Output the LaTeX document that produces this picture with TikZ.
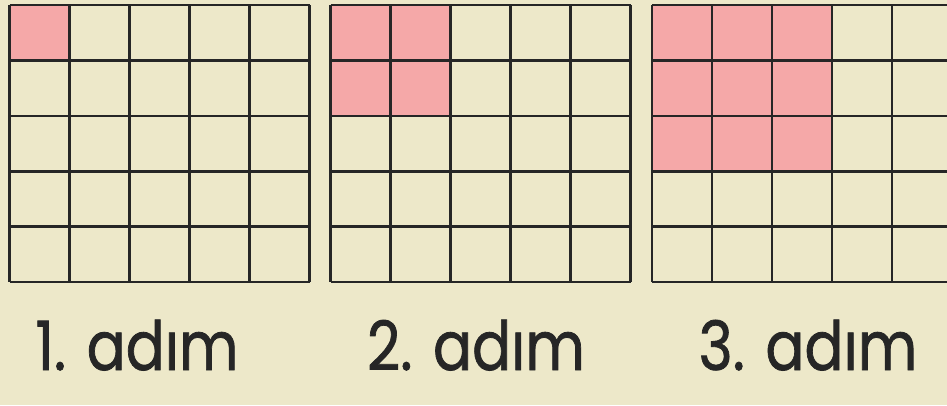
\documentclass[tikz,border=0pt]{standalone}
\usepackage{fontspec}
\setmainfont{Poppins}[FakeBold=1.2]
\definecolor{bej}{HTML}{EDE8C9}
\definecolor{pembe}{HTML}{F5A8A8}
\definecolor{cizgi}{HTML}{262626}

\begin{document}
\begin{tikzpicture}[x=1pt,y=-1pt,
  izgara/.style={draw=cizgi,line width=2.6pt},
  etiket/.style={font=\fontsize{68}{68}\selectfont,text=cizgi,anchor=base,xscale=0.85}]
  \fill[bej] (0,0) rectangle (947,405);
  \useasboundingbox (0,0) rectangle (947,405);
  \foreach \n/\x in {1/9.5,2/330.5,3/652} {
    \fill[pembe] (\x,5) rectangle ++(\n*60,\n*55.4);
    \foreach \i in {0,...,5} {
      \draw[izgara] (\x+\i*60,5) -- (\x+\i*60,282);
      \draw[izgara] (\x,5+\i*55.4) -- (\x+300,5+\i*55.4);
    }
  }
  \node[etiket] (adim1) at (137,370) {1. adım};
  \node[etiket] (adim2) at (476,370) {2. adım};
  \node[etiket] (adim3) at (808,370) {3. adım};
\end{tikzpicture}
\end{document}
